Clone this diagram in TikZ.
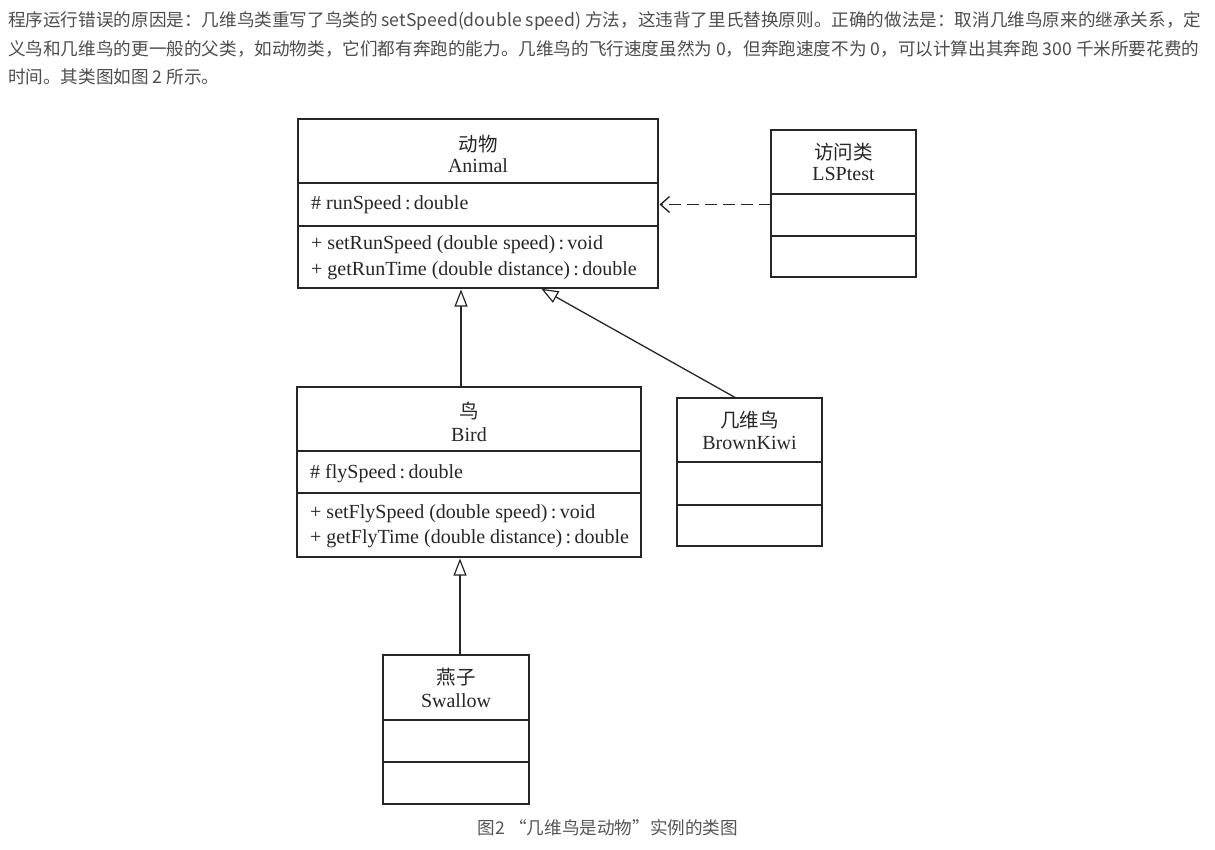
\documentclass[tikz,border=0pt]{standalone}
\usepackage{fontspec}
\setmainfont{Liberation Serif}
\newfontfamily\cjk{Noto Sans CJK SC}
\newfontfamily\uifont{Noto Sans CJK SC}
\usetikzlibrary{arrows.meta,calc}
\definecolor{txt}{HTML}{4D4D4D}
\definecolor{capc}{HTML}{555555}
\definecolor{ln}{HTML}{262626}
\begin{document}
\begin{tikzpicture}[x=1pt,y=-1pt,
  comp/.style={draw=ln, line width=1.4pt, rectangle, anchor=north west, inner sep=0pt, outer sep=0pt},
  cn/.style={anchor=center, inner sep=0pt, text=ln, font=\cjk\fontsize{19.5}{22}\selectfont},
  en/.style={anchor=base, inner sep=0pt, text=ln, font=\fontsize{20}{23}\selectfont},
  mem/.style={anchor=base west, inner sep=0pt, text=ln, font=\fontsize{20}{23}\selectfont},
  para/.style={anchor=west, inner sep=0pt, text=txt, font=\uifont\fontsize{17.6}{20}\selectfont},
  inh/.style={draw=ln, line width=1.3pt, -{Triangle[open, length=17pt, width=13pt, line width=1.2pt]}, shorten >=1.5pt},
  dep/.style={draw=ln, line width=1.5pt, dash pattern=on 12pt off 6pt, -{Straight Barb[length=9pt, width=16pt, line width=1.4pt]}, shorten >=1.5pt}
]
\useasboundingbox (0,0) rectangle (1215,850);
\fill[white] (0,0) rectangle (1215,850);

% paragraph
\node[para] (p1) at (8,21) {程序运行错误的原因是：几维鸟类重写了鸟类的 setSpeed(double speed) 方法，这违背了里氏替换原则。正确的做法是：取消几维鸟原来的继承关系，定};
\node[para] (p2) at (8,49) {义鸟和几维鸟的更一般的父类，如动物类，它们都有奔跑的能力。几维鸟的飞行速度虽然为 0，但奔跑速度不为 0，可以计算出其奔跑 300 千米所要花费的};
\node[para] (p3) at (8,77) {时间。其类图如图 2 所示。};

% Animal
\node[comp, minimum width=360, minimum height=64] (animalT) at (298,119) {};
\node[comp, minimum width=360, minimum height=43] (animalA) at (298,183) {};
\node[comp, minimum width=360, minimum height=62] (animalM) at (298,226) {};
\node[cn] (animalCN) at (478,144) {动物};
\node[en] (animalEN) at (478,173) {Animal};
\node[mem] (animalA1) at (311,210) {\# runSpeed\,:\,double};
\node[mem] (animalM1) at (311,250) {+ setRunSpeed (double speed)\,:\,void};
\node[mem] (animalM2) at (311,276) {+ getRunTime (double distance)\,:\,double};

% LSPtest
\node[comp, minimum width=145, minimum height=64] (lspT) at (771,130) {};
\node[comp, minimum width=145, minimum height=42] (lspA) at (771,194) {};
\node[comp, minimum width=145, minimum height=41] (lspM) at (771,236) {};
\node[cn] (lspCN) at (843.5,152) {访问类};
\node[en] (lspEN) at (843.5,181) {LSPtest};

% Bird
\node[comp, minimum width=344, minimum height=64] (birdT) at (297,387) {};
\node[comp, minimum width=344, minimum height=42] (birdA) at (297,451) {};
\node[comp, minimum width=344, minimum height=64] (birdM) at (297,493) {};
\node[cn] (birdCN) at (469,411) {鸟};
\node[en] (birdEN) at (469,441) {Bird};
\node[mem] (birdA1) at (310,478) {\# flySpeed\,:\,double};
\node[mem] (birdM1) at (310,518) {+ setFlySpeed (double speed)\,:\,void};
\node[mem] (birdM2) at (310,543) {+ getFlyTime (double distance)\,:\,double};

% BrownKiwi
\node[comp, minimum width=145, minimum height=64] (kiwiT) at (677,398) {};
\node[comp, minimum width=145, minimum height=43] (kiwiA) at (677,462) {};
\node[comp, minimum width=145, minimum height=41] (kiwiM) at (677,505) {};
\node[cn] (kiwiCN) at (749.5,420) {几维鸟};
\node[en] (kiwiEN) at (749.5,449) {BrownKiwi};

% Swallow
\node[comp, minimum width=146, minimum height=65] (swT) at (383,655) {};
\node[comp, minimum width=146, minimum height=42] (swA) at (383,720) {};
\node[comp, minimum width=146, minimum height=42] (swM) at (383,762) {};
\node[cn] (swCN) at (456,677) {燕子};
\node[en] (swEN) at (456,707) {Swallow};

% connectors
\draw[inh] ($(birdT.north west)+(164,0)$) -- ($(animalM.south west)+(163,0)$);
\draw[inh] ($(kiwiT.north west)+(59,0)$) -- ($(animalM.south west)+(242,0)$);
\draw[inh] ($(swT.north west)+(77,0)$) -- ($(birdM.south west)+(163,0)$);
\draw[dep] (lspA.west |- animalA.east) -- (animalA.east);

% caption
\node[anchor=center, inner sep=0pt, text=capc, font=\uifont\fontsize{17.6}{20}\selectfont] (caption) at (608,828) {图2 “几维鸟是动物”实例的类图};
\end{tikzpicture}
\end{document}
